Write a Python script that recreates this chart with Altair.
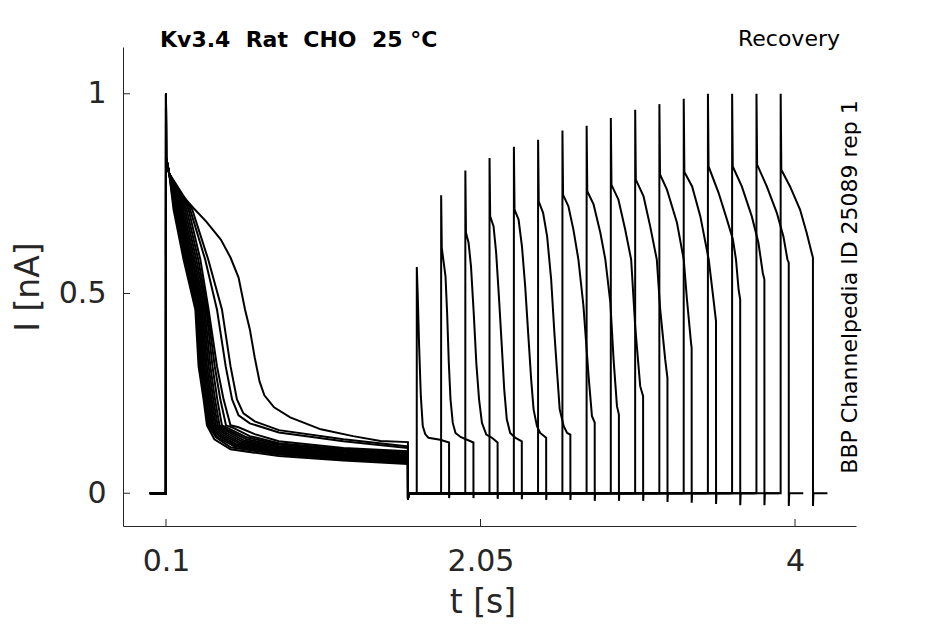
import altair as alt
import pandas as pd

# protocol timing (s)
STEP1_ON = 0.1
STEP1_OFF = 1.6
STEP2_LEN = 0.2
TAIL_LEN = 0.09
ONSET_T = [1.655, 1.806, 1.956, 2.106, 2.257, 2.407, 2.558, 2.708,
           2.858, 3.009, 3.159, 3.310, 3.460, 3.610, 3.761, 3.911]

# current levels (nA)
PEAK1_I = 1.0
SPIKE1_I = 0.84
STEP1_DIP = -0.015
PEAK2_I = [0.566, 0.746, 0.808, 0.839, 0.867, 0.885, 0.908, 0.92,
           0.939, 0.96, 0.974, 0.9875, 1.0, 1.0, 1.0, 1.0]
END_DIP = [-0.012, -0.012, -0.014, -0.015, -0.017, -0.017, -0.019, -0.019,
           -0.019, -0.022, -0.024, -0.027, -0.03, -0.03, -0.032, -0.032]

# first step, the three slow sweeps (t, I)
FIRST_SLOW = [(0.12, 0.80), (0.18, 0.755), (0.27, 0.714), (0.35, 0.68), (0.44, 0.635),
              (0.50, 0.59), (0.55, 0.54), (0.59, 0.46), (0.62, 0.41), (0.65, 0.34),
              (0.68, 0.28), (0.71, 0.245), (0.77, 0.215), (0.87, 0.19), (1.06, 0.16),
              (1.26, 0.143), (1.43, 0.131), (1.60, 0.128)]
FIRST_MID_B = [(0.12, 0.80), (0.25, 0.71), (0.343, 0.585), (0.416, 0.46), (0.47, 0.318),
               (0.51, 0.235), (0.55, 0.195), (0.62, 0.175), (0.8, 0.152), (1.2, 0.13),
               (1.6, 0.113)]
FIRST_MID_C = [(0.12, 0.80), (0.263, 0.71), (0.362, 0.585), (0.447, 0.46), (0.50, 0.318),
               (0.54, 0.235), (0.58, 0.20), (0.65, 0.18), (0.8, 0.158), (1.2, 0.135),
               (1.6, 0.117)]

# first step, the dense bundle: times at which each sweep crosses these levels
CLUSTER_LEVELS = [0.71, 0.585, 0.46, 0.318, 0.235, 0.17]
CLUSTER_CROSS_T = [
    [0.147, 0.209, 0.282, 0.302, 0.333, 0.354],
    [0.152, 0.215, 0.287, 0.309, 0.338, 0.362],
    [0.158, 0.222, 0.293, 0.316, 0.345, 0.370],
    [0.163, 0.228, 0.298, 0.322, 0.351, 0.376],
    [0.170, 0.235, 0.305, 0.330, 0.358, 0.384],
    [0.176, 0.242, 0.311, 0.337, 0.366, 0.392],
    [0.183, 0.250, 0.318, 0.345, 0.374, 0.400],
    [0.190, 0.258, 0.325, 0.354, 0.383, 0.410],
    [0.198, 0.267, 0.333, 0.364, 0.393, 0.420],
    [0.207, 0.277, 0.341, 0.375, 0.404, 0.432],
    [0.217, 0.288, 0.350, 0.388, 0.418, 0.447],
    [0.228, 0.300, 0.357, 0.402, 0.437, 0.472],
    [0.240, 0.313, 0.364, 0.416, 0.457, 0.500],
]
CLUSTER_TAIL = [
    [(0.40, 0.135), (0.50, 0.11), (0.8, 0.093), (1.2, 0.082), (1.6, 0.073)],
    [(0.41, 0.14), (0.50, 0.115), (0.8, 0.097), (1.2, 0.085), (1.6, 0.076)],
    [(0.42, 0.14), (0.52, 0.118), (0.8, 0.10), (1.2, 0.088), (1.6, 0.079)],
    [(0.43, 0.143), (0.53, 0.12), (0.8, 0.102), (1.2, 0.09), (1.6, 0.081)],
    [(0.44, 0.145), (0.54, 0.122), (0.8, 0.105), (1.2, 0.092), (1.6, 0.083)],
    [(0.45, 0.147), (0.55, 0.125), (0.8, 0.107), (1.2, 0.094), (1.6, 0.085)],
    [(0.46, 0.15), (0.56, 0.127), (0.8, 0.11), (1.2, 0.097), (1.6, 0.088)],
    [(0.47, 0.152), (0.57, 0.13), (0.8, 0.112), (1.2, 0.099), (1.6, 0.09)],
    [(0.48, 0.155), (0.58, 0.133), (0.8, 0.115), (1.2, 0.101), (1.6, 0.093)],
    [(0.49, 0.157), (0.60, 0.135), (0.8, 0.118), (1.2, 0.104), (1.6, 0.096)],
    [(0.50, 0.16), (0.60, 0.14), (0.8, 0.122), (1.2, 0.107), (1.6, 0.099)],
    [(0.52, 0.163), (0.62, 0.143), (0.8, 0.125), (1.2, 0.11), (1.6, 0.102)],
    [(0.55, 0.165), (0.65, 0.148), (0.8, 0.13), (1.2, 0.113), (1.6, 0.105)],
]

# second step, (time after onset, I) for each sweep
SECOND = [
    [(0.006, 0.493), (0.0145, 0.368), (0.025, 0.243), (0.037, 0.168), (0.052, 0.148),
     (0.072, 0.139), (0.145, 0.134), (0.2, 0.127)],
    [(0.004, 0.614), (0.027, 0.543), (0.037, 0.451), (0.0475, 0.326), (0.058, 0.235),
     (0.072, 0.176), (0.089, 0.151), (0.12, 0.141), (0.2, 0.127)],
    [(0.004, 0.652), (0.02, 0.627), (0.035, 0.568), (0.052, 0.451), (0.068, 0.326),
     (0.085, 0.235), (0.103, 0.176), (0.13, 0.147), (0.165, 0.139), (0.2, 0.127)],
    [(0.004, 0.693), (0.025, 0.668), (0.041, 0.602), (0.058, 0.493), (0.076, 0.368),
     (0.091, 0.26), (0.107, 0.185), (0.128, 0.151), (0.159, 0.139), (0.2, 0.13)],
    [(0.004, 0.71), (0.029, 0.685), (0.05, 0.618), (0.07, 0.518), (0.091, 0.385),
     (0.107, 0.285), (0.122, 0.21), (0.143, 0.168), (0.163, 0.151), (0.2, 0.139)],
    [(0.004, 0.73), (0.031, 0.702), (0.056, 0.643), (0.081, 0.535), (0.101, 0.402),
     (0.118, 0.302), (0.134, 0.21), (0.159, 0.168), (0.18, 0.151), (0.2, 0.147)],
    [(0.004, 0.747), (0.037, 0.718), (0.068, 0.66), (0.099, 0.585), (0.13, 0.47),
     (0.162, 0.293), (0.183, 0.193), (0.2, 0.177)],
    [(0.004, 0.756), (0.043, 0.723), (0.085, 0.652), (0.116, 0.585), (0.147, 0.477),
     (0.167, 0.335), (0.188, 0.218), (0.2, 0.197)],
    [(0.004, 0.772), (0.047, 0.735), (0.089, 0.66), (0.126, 0.585), (0.151, 0.418),
     (0.182, 0.268), (0.2, 0.243)],
    [(0.004, 0.785), (0.052, 0.743), (0.093, 0.668), (0.134, 0.585), (0.155, 0.46),
     (0.186, 0.335), (0.2, 0.289)],
    [(0.004, 0.798), (0.047, 0.76), (0.109, 0.677), (0.151, 0.585), (0.171, 0.485),
     (0.196, 0.377), (0.2, 0.364)],
    [(0.004, 0.804), (0.052, 0.768), (0.103, 0.693), (0.155, 0.585), (0.18, 0.5),
     (0.2, 0.431)],
    [(0.004, 0.818), (0.066, 0.752), (0.118, 0.685), (0.155, 0.635), (0.174, 0.585),
     (0.19, 0.51), (0.2, 0.485)],
    [(0.004, 0.818), (0.06, 0.768), (0.122, 0.693), (0.163, 0.627), (0.19, 0.552),
     (0.2, 0.535)],
    [(0.004, 0.8225), (0.064, 0.768), (0.126, 0.702), (0.167, 0.643), (0.192, 0.585),
     (0.2, 0.577)],
    [(0.004, 0.81), (0.058, 0.768), (0.12, 0.71), (0.161, 0.652), (0.192, 0.602),
     (0.2, 0.59)],
]

X_TICKS = [0.1, 2.05, 4]
Y_TICKS = [0, 0.5, 1]
X_DOMAIN = [-0.1665, 4.378]
Y_DOMAIN = [-0.082, 1.117]

# no-break spaces keep the doubled gaps of the original title
TITLE = "Kv3.4\u00a0\u00a0Rat\u00a0\u00a0CHO\u00a0\u00a025\u00a0°C"
PROTOCOL = "Recovery"
SOURCE = "BBP Channelpedia ID 25089 rep 1"

FONT = "DejaVu Sans"
INK = "#262626"
W, H = 733, 479

# assemble one polyline per sweep
cluster = [[(0.12, 0.80)] + list(zip(ct, CLUSTER_LEVELS)) + tail
           for ct, tail in zip(CLUSTER_CROSS_T, CLUSTER_TAIL)]
first_shapes = [FIRST_SLOW, FIRST_MID_B, FIRST_MID_C] + cluster[::-1]

rows = []
for k in range(16):
    pts = [(0.0, 0.0), (STEP1_ON - 0.0005, 0.0), (STEP1_ON, PEAK1_I),
           (STEP1_ON + 0.0008, SPIKE1_I)]
    pts += first_shapes[k]
    pts += [(STEP1_OFF + 0.0003, STEP1_DIP), (STEP1_OFF + 0.003, 0.0)]
    on = ONSET_T[k]
    pts += [(on - 0.0003, 0.0), (on, PEAK2_I[k])]
    pts += [(on + dt, v) for dt, v in SECOND[k]]
    end = on + STEP2_LEN
    pts += [(end + 0.0003, END_DIP[k]), (end + 0.003, 0.0), (end + TAIL_LEN, 0.0)]
    for j, (t, i) in enumerate(pts):
        rows.append({"sweep": k, "idx": j, "t": t, "i": i})
df = pd.DataFrame(rows)

traces = alt.Chart(df).mark_line(color="black", strokeWidth=2).encode(
    x=alt.X("t:Q", scale=alt.Scale(domain=X_DOMAIN, nice=False, zero=False),
            axis=alt.Axis(values=X_TICKS, format=".3~g", title=None, labelPadding=20)),
    y=alt.Y("i:Q", scale=alt.Scale(domain=Y_DOMAIN, nice=False, zero=False),
            axis=alt.Axis(values=Y_TICKS, format=".3~g", title=None, labelPadding=17)),
    detail="sweep:N",
    order="idx:Q",
)

# inward ticks, MATLAB style
xticks = alt.Chart(pd.DataFrame({"t": X_TICKS})).mark_rule(color=INK, strokeWidth=1).encode(
    x="t:Q", y=alt.value(H), y2=alt.value(H - 7))
yticks = alt.Chart(pd.DataFrame({"i": Y_TICKS})).mark_rule(color=INK, strokeWidth=1).encode(
    y="i:Q", x=alt.value(0), x2=alt.value(7))


def label(text, x, y, **kw):
    return alt.Chart(pd.DataFrame({"s": [text]})).mark_text(font=FONT, **kw).encode(
        text="s:N", x=alt.value(x), y=alt.value(y))


title = label(TITLE, 37, 0, fontSize=22, fontWeight="bold", align="left",
              baseline="alphabetic", color="black")
protocol = label(PROTOCOL, 717, -1, fontSize=22, align="right",
                 baseline="alphabetic", color="black")
source = label(SOURCE, 734, 240, fontSize=22, angle=270, align="center",
               baseline="alphabetic", color="black")
ylab = label("I [nA]", -84, 240, fontSize=33, angle=270, align="center",
             baseline="alphabetic", color=INK)
xlab = label("t [s]", 360, 566, fontSize=33, align="center",
             baseline="alphabetic", color=INK)

chart = alt.layer(traces, xticks, yticks, title, protocol, source, ylab, xlab).properties(
    width=W, height=H,
    autosize=alt.AutoSizeParams(type="none"),
    padding={"left": 115, "top": 39, "right": 70, "bottom": 95},
).configure_view(stroke=None).configure_axis(
    grid=False, ticks=False, tickSize=0, domainColor=INK, domainWidth=1,
    labelColor=INK, labelFont=FONT, labelFontSize=30,
)

chart.save("out.html", embed_options={"renderer": "svg", "actions": False})
